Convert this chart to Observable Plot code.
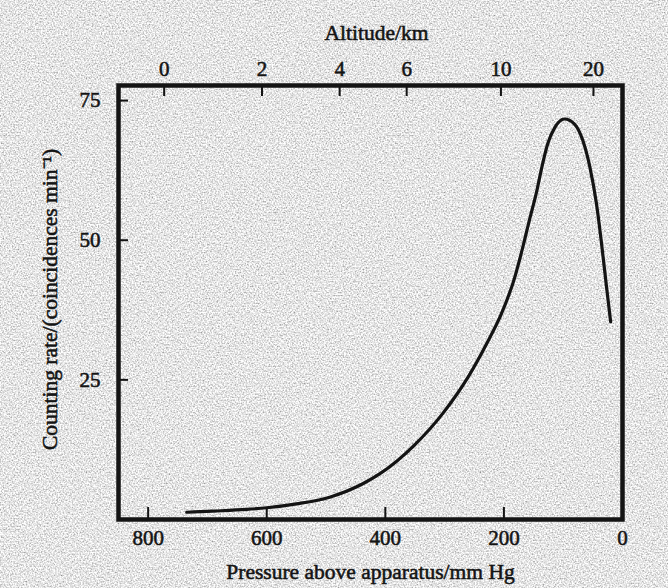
<!DOCTYPE html>
<html>
<head>
<meta charset="utf-8">
<script src="https://cdn.jsdelivr.net/npm/d3@7"></script>
<script src="https://cdn.jsdelivr.net/npm/@observablehq/plot@0.6"></script>
<style>
  html, body { margin: 0; padding: 0; background: #c8c8c8; }
  #chart { position: relative; width: 668px; height: 588px; overflow: hidden; }
  #chart > svg { position: absolute; left: 0; top: 0; }
  #chart text { stroke: #141414; stroke-width: 0.55px; }
</style>
</head>
<body>
<div id="chart">
  <!-- grainy paper background -->
  <svg id="grain" width="668" height="588">
    <filter id="paper" x="0" y="0" width="100%" height="100%">
      <feTurbulence type="fractalNoise" baseFrequency="0.65" numOctaves="2" seed="7"/>
      <feColorMatrix type="matrix"
        values="1.25 0 0 0 0.16  1.25 0 0 0 0.16  1.25 0 0 0 0.16  0 0 0 0 1"/>
    </filter>
    <rect width="668" height="588" filter="url(#paper)"/>
  </svg>
</div>
<script>
// Counting rate of coincidences against the pressure above the apparatus
const pressure = [735, 691, 634, 600, 550, 494, 438, 409, 353, 303, 261, 230, 204,
                  183, 168, 157, 145, 137, 126, 114, 98, 81, 67, 55, 44, 36, 27, 20];
const rate     = [1.3, 1.5, 1.8, 2.1, 2.8, 4.0, 6.4, 8.2, 13.1, 19.0, 25.4, 31.3, 36.9,
                  42.9, 48.8, 53.6, 58.6, 62.6, 67.3, 70.2, 71.7, 70.8, 67.9, 63.1, 56.6, 50.0, 41.7, 35.4];

// Axis ticks
const pressureTicks = [800, 600, 400, 200, 0];
const rateTicks = [25, 50, 75];
// Altitude scale (top), placed at the matching pressure
const altitudeKm = [0, 2, 4, 6, 10, 20];
const altitudePressure = [773, 608, 477, 364, 205, 49];

// Texts
const xTitle = "Pressure above apparatus/mm Hg";
const topTitle = "Altitude/km";
const yTitle = "Counting rate/(coincidences min\u207B\u00B9)";

const points = pressure.map((p, i) => ({p, r: rate[i]}));
const ink = "#141414";

const chart = Plot.plot({
  width: 668,
  height: 588,
  marginLeft: 118,
  marginRight: 46,
  marginTop: 85,
  marginBottom: 69,
  style: {background: "transparent", fontFamily: "'Liberation Serif', serif", fontSize: "21px", color: ink},
  x: {domain: [850, 0]},
  y: {domain: [0, 77.7]},
  marks: [
    Plot.axisX(pressureTicks, {anchor: "bottom", tickSize: -12, tickPadding: 22.5, strokeWidth: 2,
      stroke: ink, fill: ink, label: null, fontSize: 21, tickFormat: d => String(d)}),
    Plot.axisX(altitudePressure, {anchor: "top", tickSize: -10, tickPadding: 20, strokeWidth: 2,
      stroke: ink, fill: ink, label: null, fontSize: 21,
      tickFormat: d => String(altitudeKm[altitudePressure.indexOf(d)])}),
    Plot.axisY(rateTicks, {anchor: "left", tickSize: -10, tickPadding: 28, strokeWidth: 2,
      stroke: ink, fill: ink, label: null, fontSize: 21, tickFormat: d => String(d)}),
    Plot.text([xTitle], {frameAnchor: "bottom", textAnchor: "middle", lineAnchor: "bottom", dy: 59, fill: ink, fontSize: 21.5}),
    Plot.text([topTitle], {frameAnchor: "top", textAnchor: "middle", lineAnchor: "bottom", dy: -46, dx: 6, fill: ink, fontSize: 21.5}),
    Plot.text([yTitle], {frameAnchor: "left", textAnchor: "middle", rotate: -90, lineAnchor: "bottom", dx: -62, dy: -3, fill: ink, fontSize: 21.5}),
    Plot.line(points, {x: "p", y: "r", curve: "monotone-x", stroke: ink, strokeWidth: 3.2}),
    Plot.frame({stroke: ink, strokeWidth: 4.5})
  ]
});
document.getElementById("chart").appendChild(chart);
</script>
</body>
</html>
